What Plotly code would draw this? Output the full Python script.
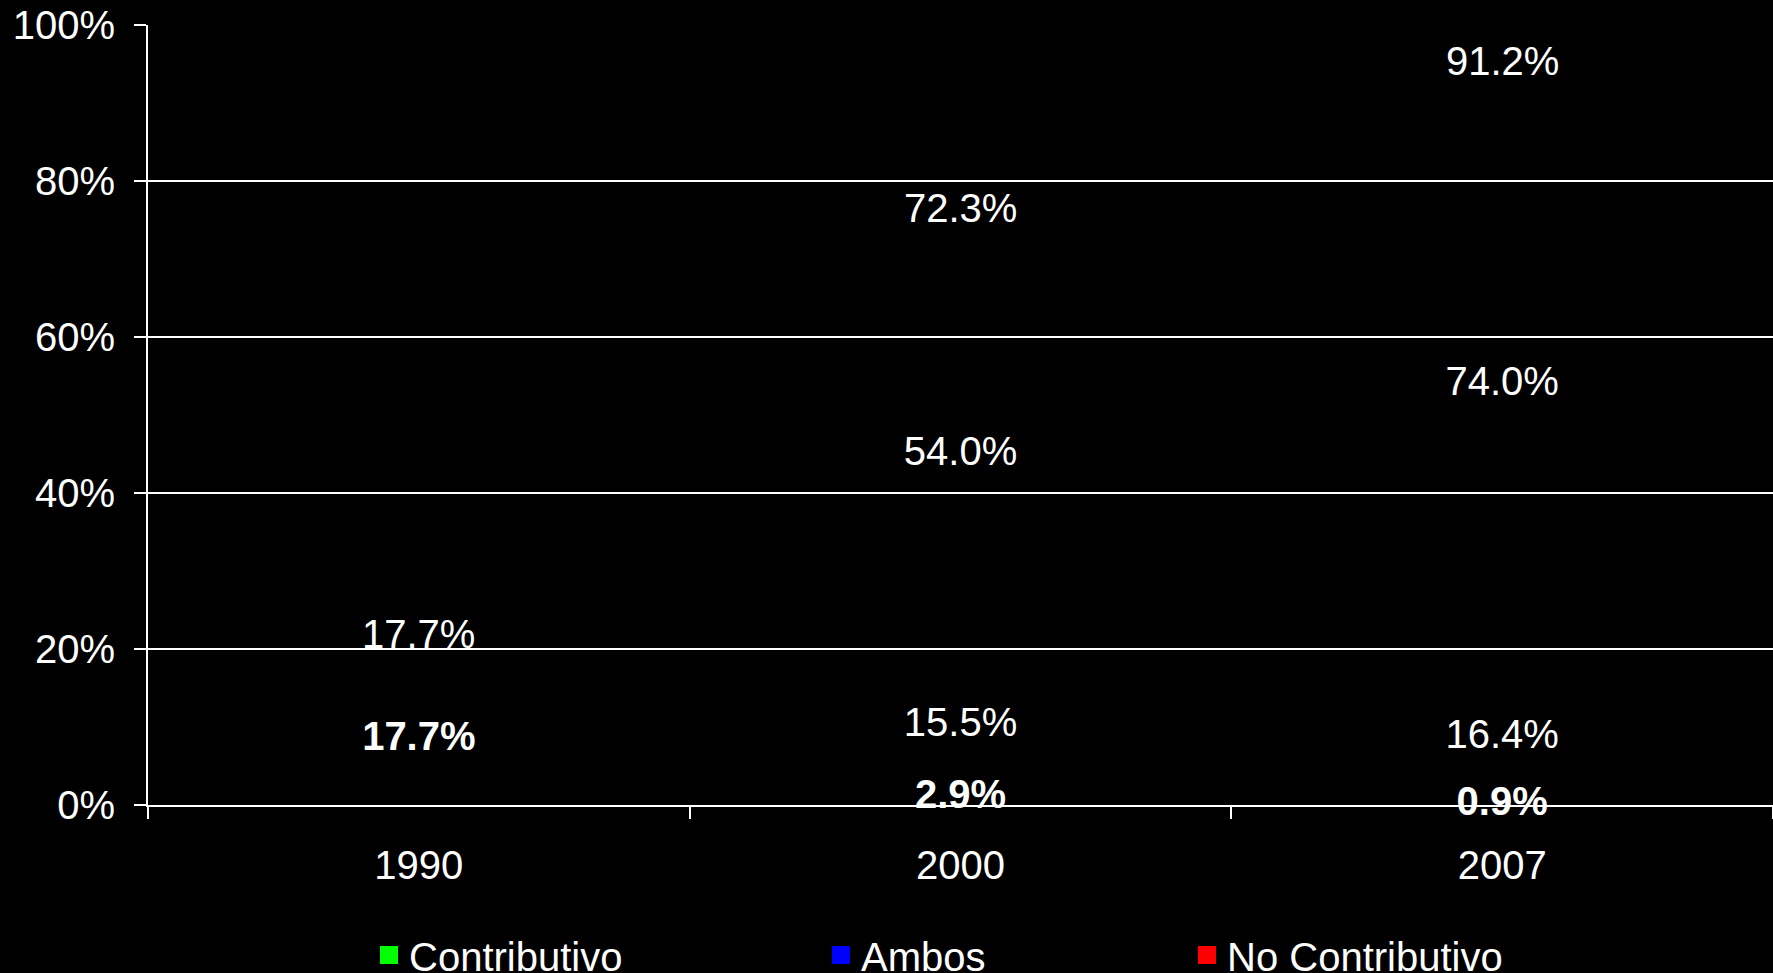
import plotly.graph_objects as go

# Coverage by pension type (percent of population), stacked per year
years = ["1990", "2000", "2007"]
contributivo = [17.7, 2.9, 0.9]
ambos = [None, 15.5, 16.4]
no_contributivo = [None, 54.0, 74.0]
totals = [17.7, 72.3, 91.2]

series_names = ["Contributivo", "Ambos", "No Contributivo"]
series_colors = ["#00ff00", "#0000ff", "#ff0000"]
series_weights = ["bold", "normal", "normal"]
y_ticks = [0, 20, 40, 60, 80, 100]
y_tick_text = ["0%", "20%", "40%", "60%", "80%", "100%"]

FONT = "Liberation Sans, Arial, sans-serif"
FS = 40
legend_ids = ["legend", "legend2", "legend3"]

fig = go.Figure()
for i, (name, vals) in enumerate(zip(series_names, [contributivo, ambos, no_contributivo])):
    # unfilled stacked columns, only their value labels show
    fig.add_trace(go.Bar(
        x=years, y=vals, name=name,
        marker=dict(color="rgba(0,0,0,0)", line=dict(width=0)),
        texttemplate="%{y:.1f}%",
        textposition="inside",
        insidetextanchor="middle",
        constraintext="none",
        textangle=0,
        cliponaxis=False,
        textfont=dict(family=FONT, size=FS, color="white", weight=series_weights[i]),
        width=0.5,
        showlegend=False,
        hoverinfo="skip",
    ))
    # legend key for the series
    fig.add_trace(go.Scatter(
        x=[None], y=[None], mode="markers", name=name,
        marker=dict(symbol="square", size=16, color=series_colors[i],
                    line=dict(width=2, color=series_colors[i])),
        legend=legend_ids[i], showlegend=True,
    ))

# stack totals written above each column
for idx, tot in enumerate(totals):
    fig.add_annotation(
        x=idx, y=tot, text=f"{tot:.1f}%", showarrow=False,
        yanchor="middle", yshift=33,
        font=dict(family=FONT, size=FS, color="white"),
    )

legend_common = dict(
    orientation="h", xref="container", yref="container",
    yanchor="middle", y=1 - 955 / 973, xanchor="left",
    bgcolor="rgba(0,0,0,0)",
    font=dict(family=FONT, size=FS, color="white"),
)

fig.update_layout(
    width=1773, height=973,
    barmode="stack",
    paper_bgcolor="black", plot_bgcolor="black",
    margin=dict(l=148, r=0, t=25, b=168),
    font=dict(family=FONT, size=FS, color="white"),
    showlegend=True,
    legend=dict(legend_common, x=369 / 1773),
    legend2=dict(legend_common, x=821 / 1773),
    legend3=dict(legend_common, x=1187 / 1773),
    xaxis=dict(
        type="category", categoryorder="array", categoryarray=years,
        range=[-0.5, 2.5], automargin=False, tickangle=0,
        showgrid=False,
        showline=True, linecolor="white", linewidth=2,
        ticks="outside", tickson="boundaries", ticklen=12,
        tickcolor="white", tickwidth=2,
        ticklabelstandoff=24,
        tickfont=dict(family=FONT, size=FS, color="white"),
    ),
    yaxis=dict(
        range=[0, 100], tickvals=y_ticks, ticktext=y_tick_text,
        automargin=False,
        showgrid=True, gridcolor="white", gridwidth=2,
        showline=True, linecolor="white", linewidth=2,
        ticks="outside", ticklen=12, tickcolor="white", tickwidth=2,
        ticklabelstandoff=11, zeroline=False,
        tickfont=dict(family=FONT, size=FS, color="white"),
    ),
)

fig.write_html("out.html")
